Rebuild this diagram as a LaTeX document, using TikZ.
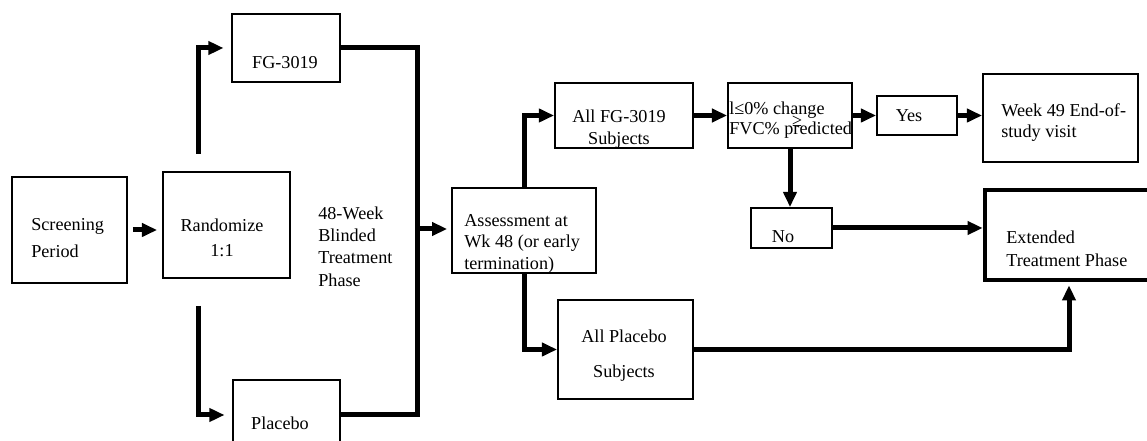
\documentclass[tikz,border=0pt]{standalone}
\usepackage{fontspec}
\setmainfont{Liberation Serif}
\usetikzlibrary{arrows.meta}

\tikzstyle{box}=[draw, line width=1.2pt, inner sep=0]
\tikzstyle{bigbox}=[draw, line width=3pt, inner sep=0]
\tikzstyle{txt}=[inner sep=0, align=left]
\tikzstyle{flow}=[line width=3.3pt, -{Triangle[length=10pt, width=8.6pt]}]
\tikzstyle{link}=[line width=3.3pt]

\begin{document}
\begin{tikzpicture}[x=0.66pt, y=-0.66pt]

\useasboundingbox (0,0) rectangle (1147,441);
\clip (0,0) rectangle (1147,441);

\node [box, minimum width=75.9pt, minimum height=70pt] (screen) at (69.5, 230) {};
\node [box, minimum width=83.8pt, minimum height=70pt] (rand) at (226.5, 225) {};
\node [box, minimum width=71.3pt, minimum height=44.9pt] (fg) at (286, 48) {};
\node [box, minimum width=70.6pt, minimum height=46.2pt] (plac) at (286.5, 415) {};
\node [box, minimum width=95pt, minimum height=56.1pt] (assess) at (524, 230.5) {};
\node [box, minimum width=91.1pt, minimum height=42.9pt] (allfg) at (624, 115.5) {};
\node [box, minimum width=81.8pt, minimum height=42.9pt] (dec) at (790, 115.5) {};
\node [box, minimum width=52.8pt, minimum height=25.7pt] (yes) at (917, 115.5) {};
\node [box, minimum width=102.3pt, minimum height=58.1pt] (week) at (1060.5, 118) {};
\node [box, minimum width=53.5pt, minimum height=26.4pt] (no) at (791.5, 228) {};
\node [bigbox, minimum width=110.9pt, minimum height=59.4pt] (ext) at (1069, 235) {};
\node [box, minimum width=89.1pt, minimum height=65.3pt] (allpl) at (625.5, 349.5) {};

\node [txt, anchor=west, font=\fontsize{12}{17.8}\selectfont] (screen-txt) at (31, 238.5) {Screening\\Period};
\node [txt, align=center, font=\fontsize{12}{16.5}\selectfont] (rand-txt) at (222, 237.5) {Randomize\\1:1};
\node [txt, font=\fontsize{12}{14}\selectfont] (fg-txt) at (285, 63) {FG-3019};
\node [txt, font=\fontsize{12}{14}\selectfont] (plac-txt) at (280, 423) {Placebo};
\node [txt, anchor=west, font=\fontsize{12}{14.7}\selectfont] (phase-txt) at (318, 246.5) {48-Week\\Blinded\\Treatment\\Phase};
\node [txt, anchor=west, font=\fontsize{12}{14.2}\selectfont] (assess-txt) at (464, 243.5) {Assessment at\\Wk 48 (or early\\termination)};
\node [txt, align=center, font=\fontsize{12}{14.5}\selectfont] (allfg-txt) at (619, 129) {All FG-3019\\Subjects};
\node [txt, anchor=west, font=\fontsize{12}{13.2}\selectfont] (dec-txt) at (729, 120) {l≤0\% change\\FVC\% predicted};
\node [txt, font=\fontsize{12}{14}\selectfont] (dec-mark) at (797, 121) {≥};
\node [txt, font=\fontsize{12}{14}\selectfont] (yes-txt) at (909, 116) {Yes};
\node [txt, anchor=west, font=\fontsize{12}{13.9}\selectfont] (week-txt) at (1001, 122.5) {Week 49 End-of-\\study visit};
\node [txt, font=\fontsize{12}{14}\selectfont] (no-txt) at (783, 237) {No};
\node [txt, anchor=west, font=\fontsize{12}{15.2}\selectfont] (ext-txt) at (1006, 248.5) {Extended\\Treatment Phase};
\node [txt, align=center, font=\fontsize{12}{23}\selectfont] (allpl-txt) at (624, 355.5) {All Placebo\\Subjects};

\coordinate (rand-up) at (198, 154);
\coordinate (rand-down) at (198, 306);
\coordinate (join) at (417, 229);

\draw [flow, shorten <=3.3pt, shorten >=3.3pt] (screen.east) -- (screen.east -| rand.west);
\draw [flow, shorten >=5pt] (rand-up) |- (fg.west);
\draw [flow, shorten >=5pt] (rand-down) |- (plac.west);
\draw [link] (fg.east) -| (join) |- (plac.east);
\draw [flow, shorten >=2.6pt] (join) -- (join -| assess.west);
\draw [flow] (assess.north) |- (allfg.west);
\draw [flow] (assess.south) |- (allpl.west);
\draw [flow] (allfg) -- (dec);
\draw [flow] (dec) -- (yes);
\draw [flow] (yes.east) -- (yes.east -| week.west);
\draw [flow] (dec.south) -- (dec.south |- no.north);
\draw [flow] (no.east) -- (no.east -| ext.west);
\draw [flow, shorten >=2pt] (allpl.east) -| (ext.south);

\end{tikzpicture}
\end{document}
